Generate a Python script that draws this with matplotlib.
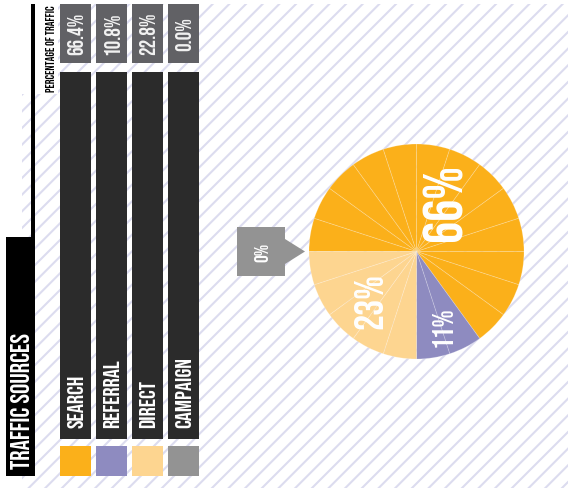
import matplotlib
matplotlib.use('Agg')
import matplotlib.pyplot as plt
from matplotlib.patches import Rectangle, Polygon
from matplotlib import font_manager
import numpy as np

sources = ['SEARCH', 'REFERRAL', 'DIRECT', 'CAMPAIGN']
shares = [66.4, 10.8, 22.8, 0.0]
share_labels = ['66.4%', '10.8%', '22.8%', '0.0%']
pie_labels = ['66%', '11%', '23%', '0%']
colors = ['#FBB01A', '#8E8BC0', '#FDD590', '#939393']

names = {f.name for f in font_manager.fontManager.ttflist}
wanted = ['Bebas Neue', 'Oswald', 'Barlow Condensed', 'Archivo Narrow']
cond = next((n for n in wanted if n in names), 'DejaVu Sans')
plt.rcParams['font.family'] = [cond, 'DejaVu Sans']
plt.rcParams['hatch.linewidth'] = 1.5

W, H = 568, 489
fig = plt.figure(figsize=(W / 100, H / 100), dpi=100)
fig.patch.set_facecolor('white')
ax = fig.add_axes([0, 0, 1, 1])
ax.set_xlim(0, W)
ax.set_ylim(H, 0)
ax.axis('off')

# striped background
ax.add_patch(Rectangle((22, 5), W - 22, H - 5, facecolor='white', edgecolor='#dcdcef',
                       lw=0, hatch='//', zorder=0))
ax.add_patch(Rectangle((0, 0), 58, 95, facecolor='white', lw=0, zorder=0.5))

# title block
ax.add_patch(Rectangle((31, 5), 3.5, 235, facecolor='black', lw=0, zorder=1))
ax.add_patch(Rectangle((6, 238), 29, 239, facecolor='black', lw=0, zorder=1))
ax.text(21, 469, 'TRAFFIC SOURCES', rotation=90, ha='center', va='bottom',
        color='white', fontsize=18.5, zorder=2)
ax.text(50.5, 5, 'PERCENTAGE OF TRAFFIC', rotation=90, ha='center', va='top',
        color='black', fontsize=8.5, zorder=2)

# columns
for i, (src, lab, col) in enumerate(zip(sources, share_labels, colors)):
    x0 = 60 + i * 36
    ax.add_patch(Rectangle((x0, 5), 30.5, 59, facecolor='#616165', lw=0, zorder=1))
    ax.add_patch(Rectangle((x0, 73), 30.5, 367, facecolor='#2b2b2b', lw=0, zorder=1))
    ax.add_patch(Rectangle((x0, 447), 30.5, 30, facecolor=col, lw=0, zorder=1))
    ax.text(x0 + 15.5, 34, lab, rotation=90, ha='center', va='center',
            color='#f2f2f2', fontsize=15.5, zorder=2)
    ax.text(x0 + 15.5, 428, src, rotation=90, ha='center', va='bottom',
            color='white', fontsize=16.5, zorder=2)

# pie built from 5% slices
cx, cy, r = 416.5, 252.5, 107.5
slices = [int(round(s / 5)) for s in shares]
slice_colors = [c for c, n in zip(colors, slices) for _ in range(n)]
pax = fig.add_axes([(cx - r) / W, (H - cy - r) / H, 2 * r / W, 2 * r / H])
pax.pie(np.ones(len(slice_colors)), colors=slice_colors, startangle=180, counterclock=False,
        wedgeprops=dict(edgecolor=(1, 1, 1, 0.22), linewidth=0.6))
pax.set_xlim(-1, 1)
pax.set_ylim(-1, 1)
pax.axis('off')

# wedge labels
start = 180.0
radii = [0.52, 0.73, 0.64]
sizes = [40, 21, 29]
for n, lab, rr, fs in zip(slices[:3], pie_labels[:3], radii, sizes):
    span = n * 18
    mid = np.deg2rad(start - span / 2)
    pax.text(rr * np.cos(mid), rr * np.sin(mid), lab, rotation=90, ha='center', va='center',
             color='white', fontsize=fs)
    start -= span

# callout for the empty campaign share
ax.add_patch(Rectangle((237, 228), 48, 49, facecolor=colors[3], lw=0, zorder=1))
ax.add_patch(Polygon([(285, 240), (305, 252.5), (285, 265)], closed=True,
                     facecolor=colors[3], lw=0, zorder=1))
ax.text(261, 252.5, pie_labels[3], rotation=90, ha='center', va='center',
        color='white', fontsize=14, zorder=2)

fig.savefig('out.png', dpi=100, facecolor='white')
